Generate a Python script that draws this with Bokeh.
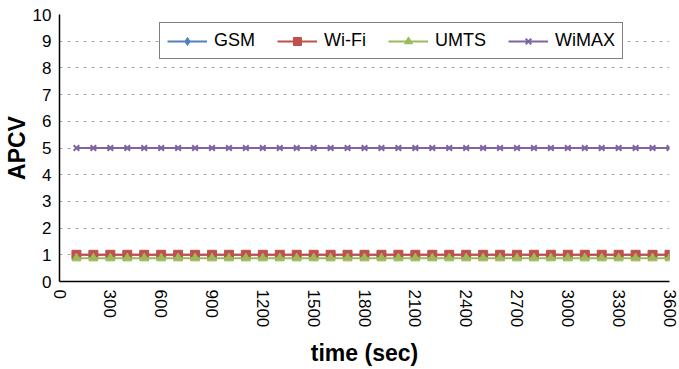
from bokeh.plotting import figure
from bokeh.models import Range1d, FixedTicker, Legend, LegendItem
from bokeh.embed import file_html
from bokeh.resources import INLINE

time_sec = [100, 200, 300, 400, 500, 600, 700, 800, 900, 1000, 1100, 1200,
            1300, 1400, 1500, 1600, 1700, 1800, 1900, 2000, 2100, 2200, 2300, 2400,
            2500, 2600, 2700, 2800, 2900, 3000, 3100, 3200, 3300, 3400, 3500, 3600]
gsm = [1.0, 1.0, 1.0, 1.0, 1.0, 1.0, 1.0, 1.0, 1.0, 1.0, 1.0, 1.0,
       1.0, 1.0, 1.0, 1.0, 1.0, 1.0, 1.0, 1.0, 1.0, 1.0, 1.0, 1.0,
       1.0, 1.0, 1.0, 1.0, 1.0, 1.0, 1.0, 1.0, 1.0, 1.0, 1.0, 1.0]
wifi = [1.0, 1.0, 1.0, 1.0, 1.0, 1.0, 1.0, 1.0, 1.0, 1.0, 1.0, 1.0,
        1.0, 1.0, 1.0, 1.0, 1.0, 1.0, 1.0, 1.0, 1.0, 1.0, 1.0, 1.0,
        1.0, 1.0, 1.0, 1.0, 1.0, 1.0, 1.0, 1.0, 1.0, 1.0, 1.0, 1.0]
umts = [0.87, 0.87, 0.87, 0.87, 0.87, 0.87, 0.87, 0.87, 0.87, 0.87, 0.87, 0.87,
        0.87, 0.87, 0.87, 0.87, 0.87, 0.87, 0.87, 0.87, 0.87, 0.87, 0.87, 0.87,
        0.87, 0.87, 0.87, 0.87, 0.87, 0.87, 0.87, 0.87, 0.87, 0.87, 0.87, 0.87]
wimax = [5.0, 5.0, 5.0, 5.0, 5.0, 5.0, 5.0, 5.0, 5.0, 5.0, 5.0, 5.0,
         5.0, 5.0, 5.0, 5.0, 5.0, 5.0, 5.0, 5.0, 5.0, 5.0, 5.0, 5.0,
         5.0, 5.0, 5.0, 5.0, 5.0, 5.0, 5.0, 5.0, 5.0, 5.0, 5.0, 5.0]
x_ticks = [0, 300, 600, 900, 1200, 1500, 1800, 2100, 2400, 2700, 3000, 3300, 3600]
y_ticks = [0, 1, 2, 3, 4, 5, 6, 7, 8, 9, 10]

FONT = "Liberation Sans"

p = figure(width=679, height=369, output_backend="svg", toolbar_location=None,
           x_range=Range1d(0, 3600), y_range=Range1d(0, 10),
           min_border_left=59, min_border_right=10, min_border_top=14,
           min_border_bottom=87)
p.outline_line_color = None
p.background_fill_color = "white"
p.border_fill_color = "white"

p.xgrid.visible = False
p.ygrid.ticker = FixedTicker(ticks=y_ticks)
p.ygrid.grid_line_color = "#a6a6a6"
p.ygrid.grid_line_dash = "3 5"
p.ygrid.grid_line_width = 1

for ax in (p.xaxis[0], p.yaxis[0]):
    ax.axis_line_color = "black"
    ax.axis_line_width = 1.5
    ax.major_tick_out = 0
    ax.major_tick_in = 0
    ax.minor_tick_out = 0
    ax.minor_tick_in = 0
    ax.major_label_text_font = FONT
    ax.major_label_text_font_size = "17px"
    ax.major_label_text_color = "black"
    ax.axis_label_text_font = FONT
    ax.axis_label_text_font_size = "23px"
    ax.axis_label_text_font_style = "bold"
    ax.axis_label_text_color = "black"

p.xaxis.ticker = FixedTicker(ticks=x_ticks)
p.xaxis.major_label_orientation = "vertical"
p.xaxis.major_label_standoff = 8
p.xaxis.axis_label = "time (sec)"
p.xaxis.axis_label_standoff = 10

p.yaxis.ticker = FixedTicker(ticks=y_ticks)
p.yaxis.major_label_standoff = 8
p.yaxis.axis_label = "APCV"
p.yaxis.axis_label_standoff = 0

series = [
    ("GSM", gsm, "#4F81BD", "diamond", 9),
    ("Wi-Fi", wifi, "#C0504D", "square", 9),
    ("UMTS", umts, "#9BBB59", "triangle", 9),
    ("WiMAX", wimax, "#8064A2", "x", 8),
]
items = []
for name, ys, color, marker, size in series:
    ln = p.line(time_sec, ys, line_color=color, line_width=2)
    sc = p.scatter(time_sec, ys, marker=marker, size=size, fill_color=color,
                   line_color=color, line_width=2 if marker == "x" else 1)
    items.append(LegendItem(label=name, renderers=[ln, sc]))

legend = Legend(items=items, orientation="horizontal", location=(100, 222),
                glyph_width=40, glyph_height=20, label_standoff=7, spacing=22,
                padding=7, margin=0,
                label_text_font=FONT, label_text_font_size="18px",
                label_text_color="black",
                border_line_color="black", border_line_width=1.5,
                background_fill_color="white", background_fill_alpha=1.0)
p.add_layout(legend, "center")

open("out.html", "w").write(file_html(p, INLINE))
